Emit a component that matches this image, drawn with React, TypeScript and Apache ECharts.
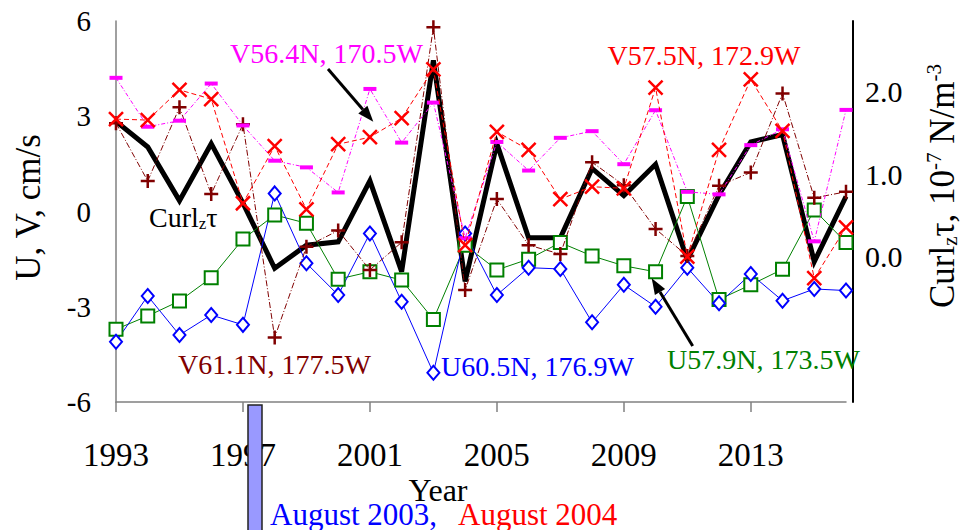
import React, { useEffect, useRef } from 'react';
import * as echarts from 'echarts';

const years = ['1993','1994','1995','1996','1997','1998','1999','2000','2001','2002','2003','2004','2005','2006','2007','2008','2009','2010','2011','2012','2013','2014','2015','2016'];

// Curl_z tau, 10^-7 N/m^-3 (right axis)
const curl = [1.64, 1.33, 0.68, 1.37, 0.65, -0.14, 0.14, 0.18, 0.92, -0.18, 2.38, -0.30, 1.37, 0.23, 0.23, 1.07, 0.74, 1.12, -0.04, 0.75, 1.39, 1.48, -0.06, 0.73];
// V56.4N, 170.5W (magenta)
const v564 = [4.21, 2.67, 2.86, 4.03, 2.71, 1.60, 1.39, 0.60, 3.86, 2.17, 3.43, -0.84, 2.19, 1.29, 2.32, 2.53, 1.49, 3.19, 0.62, 0.54, 2.09, 2.59, -0.94, 3.20];
// V57.5N, 172.9W (red)
const v575 = [2.91, 2.88, 3.83, 3.54, 0.26, 2.06, 0.07, 2.12, 2.34, 2.94, 4.48, -1.06, 2.51, 1.94, 0.39, 0.78, 0.73, 3.90, -1.42, 1.94, 4.16, 2.54, -2.10, -0.50];
// V61.1N, 177.5W (dark red)
const v611 = [2.78, 0.96, 3.28, 0.55, 2.75, -3.97, -1.11, -0.60, -1.84, -0.97, 5.80, -2.47, 0.39, -1.06, -1.34, 1.55, 0.83, -0.55, -1.40, 0.81, 1.23, 3.72, 0.43, 0.62];
// U60.5N, 176.9W (blue)
const u605 = [-4.10, -2.66, -3.89, -3.26, -3.57, 0.57, -1.63, -2.63, -0.69, -2.84, -5.08, -0.69, -2.63, -1.77, -1.81, -3.49, -2.31, -3.00, -1.77, -2.89, -1.97, -2.81, -2.44, -2.49];
// U57.9N, 173.5W (green)
const u579 = [-3.71, -3.29, -2.82, -2.09, -0.87, -0.11, -0.37, -2.13, -1.90, -2.16, -3.40, -1.06, -1.84, -1.50, -0.98, -1.40, -1.71, -1.90, 0.47, -2.77, -2.31, -1.82, 0.05, -0.98];

const leftTicks = { min: -6, max: 6, step: 3 };
const rightLabels = [0, 1, 2];

const SERIF = '"Liberation Serif", "Times New Roman", Times, serif';

export default function App() {
  const ref = useRef<HTMLDivElement>(null);
  useEffect(() => {
    const chart = echarts.init(ref.current as HTMLDivElement, null, { renderer: 'svg' });
    const txt = (x: number, y: number, text: string, fill: string, size: number, align = 'center') => ({
      type: 'text', x, y, z: 100,
      style: { text, fill, fontSize: size, fontFamily: SERIF, align, verticalAlign: 'middle' },
    });
    const arrow = (x1: number, y1: number, x2: number, y2: number) => {
      const dx = x2 - x1, dy = y2 - y1;
      const len = Math.sqrt(dx * dx + dy * dy);
      const ux = dx / len, uy = dy / len;
      const hl = 16, hw = 6;
      const bx = x2 - ux * hl, by = y2 - uy * hl;
      return [
        { type: 'line', z: 100, shape: { x1, y1, x2: bx, y2: by }, style: { stroke: '#000', lineWidth: 3 } },
        { type: 'polygon', z: 100, shape: { points: [[x2, y2], [bx - uy * hw, by + ux * hw], [bx + uy * hw, by - ux * hw]] }, style: { fill: '#000' } },
      ];
    };
    const rich = (main: number, small: number) => ({
      a: { fontSize: main, fontFamily: SERIF, fill: '#000', lineHeight: main + 2 },
      s: { fontSize: small, fontFamily: SERIF, fill: '#000', lineHeight: small, verticalAlign: 'bottom' },
      p: { fontSize: small, fontFamily: SERIF, fill: '#000', lineHeight: small, verticalAlign: 'top' },
    });

    const option = {
      animation: false,
      backgroundColor: '#ffffff',
      grid: { left: 116, right: 115, top: 21, bottom: 128 },
      xAxis: {
        type: 'category',
        data: years,
        boundaryGap: false,
        axisLine: { onZero: false, lineStyle: { color: '#808080', width: 1.5 } },
        axisTick: { interval: 3, length: 10, lineStyle: { color: '#808080', width: 1.5 } },
        axisLabel: { interval: 3, fontFamily: SERIF, fontSize: 33, color: '#000', margin: 36 },
        splitLine: { show: false },
      },
      yAxis: [
        {
          type: 'value', min: leftTicks.min, max: leftTicks.max, interval: leftTicks.step,
          axisLine: { show: true, lineStyle: { color: '#808080', width: 1.5 } },
          axisTick: { show: false },
          splitLine: { show: false },
          axisLabel: { fontFamily: SERIF, fontSize: 29, color: '#000', margin: 25 },
        },
        {
          type: 'value', position: 'right', min: -1.761, max: 2.857, offset: 7,
          axisLine: { show: true, onZero: false, lineStyle: { color: '#000', width: 2 } },
          axisTick: { show: false },
          splitLine: { show: false },
          axisLabel: {
            customValues: rightLabels,
            formatter: (v: number) => v.toFixed(1),
            fontFamily: SERIF, fontSize: 30, color: '#000', margin: 12,
          },
        },
      ],
      series: [
        {
          name: 'Curl', type: 'line', yAxisIndex: 1, data: curl, symbol: 'none', z: 2,
          lineStyle: { color: '#000', width: 5, join: 'miter' },
        },
        {
          name: 'U57.9N', type: 'line', data: u579, symbol: 'rect', symbolSize: 13, showAllSymbol: true, z: 3,
          itemStyle: { color: '#fff', borderColor: '#008000', borderWidth: 2 },
          lineStyle: { color: '#008000', width: 1 },
        },
        {
          name: 'U60.5N', type: 'line', data: u605, symbol: 'diamond', symbolSize: [12, 14], showAllSymbol: true, z: 3,
          itemStyle: { color: '#fff', borderColor: '#0000ff', borderWidth: 2 },
          lineStyle: { color: '#0000ff', width: 1 },
        },
        {
          name: 'V61.1N', type: 'line', data: v611, symbol: 'path://M5,0L5,10M0,5L10,5', symbolSize: 14, showAllSymbol: true, z: 4,
          itemStyle: { color: 'rgba(0,0,0,0)', borderColor: '#800000', borderWidth: 2.5 },
          lineStyle: { color: '#800000', width: 1, type: [6, 2, 1, 2] },
        },
        {
          name: 'V56.4N', type: 'line', data: v564, symbol: 'rect', symbolSize: [13, 4], showAllSymbol: true, z: 4,
          itemStyle: { color: '#ff00ff' },
          lineStyle: { color: '#ff00ff', width: 1, type: [4, 2, 1, 2] },
        },
        {
          name: 'V57.5N', type: 'line', data: v575, symbol: 'path://M0,0L10,10M10,0L0,10', symbolSize: 14, showAllSymbol: true, z: 5,
          itemStyle: { color: 'rgba(0,0,0,0)', borderColor: '#ff0000', borderWidth: 2.5 },
          lineStyle: { color: '#ff0000', width: 1, type: [5, 3] },
        },
      ],
      graphic: [
        txt(326.5, 53, 'V56.4N, 170.5W', '#ff00ff', 28),
        txt(704, 55, 'V57.5N, 172.9W', '#ff0000', 28),
        txt(274.5, 364, 'V61.1N, 177.5W', '#800000', 28),
        txt(537.5, 366, 'U60.5N, 176.9W', '#0000ff', 28),
        txt(763.5, 359, 'U57.9N, 173.5W', '#008000', 28),
        ...arrow(328, 69, 373.3, 121.7),
        ...arrow(692.7, 346, 651.7, 278.3),
        {
          type: 'text', x: 149, y: 217, z: 100,
          style: { text: '{a|Curl}{s|z}{a|τ}', rich: rich(28, 17), align: 'left', verticalAlign: 'middle' },
        },
        {
          type: 'text', x: 28.5, y: 207.5, rotation: Math.PI / 2, z: 100,
          style: { text: 'U, V, cm/s', fill: '#000', fontSize: 35, fontFamily: SERIF, align: 'center', verticalAlign: 'middle' },
        },
        {
          type: 'text', x: 942, y: 186, rotation: Math.PI / 2, z: 100,
          style: { text: '{a|Curl}{s|z}{a|τ, 10}{p|-7}{a| N/m}{p|-3}', rich: rich(35, 21), align: 'center', verticalAlign: 'middle' },
        },
        txt(438, 490, 'Year', '#000', 32),
        txt(270, 514, 'August 2003,', '#0000ff', 31, 'left'),
        txt(458, 514, 'August 2004', '#ff0000', 31, 'left'),
        {
          type: 'rect', z: 110,
          shape: { x: 248, y: 405, width: 14, height: 130 },
          style: { fill: '#9999ff', stroke: '#222', lineWidth: 1.5 },
        },
      ],
    };
    chart.setOption(option as any);
    return () => chart.dispose();
  }, []);
  return <div ref={ref} style={{ position: 'fixed', left: 0, top: 0, width: 961, height: 530 }} />;
}
